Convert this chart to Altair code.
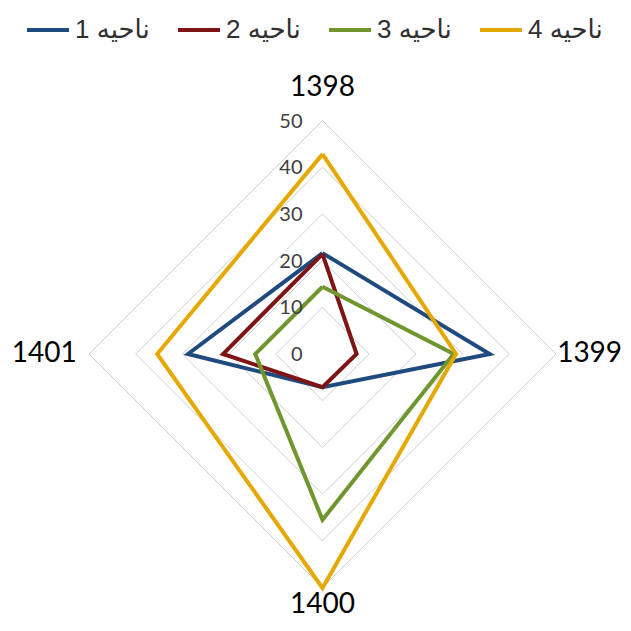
import math
import altair as alt
import pandas as pd

years = ["1398", "1399", "1400", "1401"]
series = ["ناحیه 1", "ناحیه 2", "ناحیه 3", "ناحیه 4"]
v1 = [21.6, 35.8, 7.1, 28.8]
v2 = [21.4, 7.3, 7.1, 21.3]
v3 = [14.4, 28.1, 35.5, 14.4]
v4 = [42.8, 28.6, 50.1, 35.4]
colors = ["#1F4A7E", "#7F1416", "#70972F", "#E5A800"]
ticks = [0, 10, 20, 30, 40, 50]

n = len(years)
rows = []
for s, vals in zip(series, [v1, v2, v3, v4]):
    for i in range(n + 1):
        j = i % n
        rows.append({"series": s, "year": years[j], "idx": j, "order": i, "value": vals[j]})
df = pd.DataFrame(rows)

grid_rows = []
for lv in ticks[1:]:
    for i in range(n + 1):
        grid_rows.append({"level": lv, "idx": i % n, "order": i, "value": lv})
gdf = pd.DataFrame(grid_rows)

cat_df = pd.DataFrame({"year": years, "idx": list(range(n))})
tick_df = pd.DataFrame({"value": ticks})

W, H = 615, 615
k = 4.67
cx, cy = 314.5, 346.0
xdom = [-cx / k, (W - cx) / k]
ydom = [-(H - cy) / k, cy / k]

xs = alt.Scale(domain=xdom, nice=False, zero=False)
ys = alt.Scale(domain=ydom, nice=False, zero=False)

polar = dict(
    theta=f"datum.idx * {2 * math.pi / n}",
)

grid = alt.Chart(gdf).transform_calculate(**polar).transform_calculate(
    x="datum.value * sin(datum.theta)", y="datum.value * cos(datum.theta)"
).mark_line(color="#CFCFCF", strokeWidth=1).encode(
    x=alt.X("x:Q", scale=xs, axis=None),
    y=alt.Y("y:Q", scale=ys, axis=None),
    detail="level:N",
    order="order:Q",
)

lines = alt.Chart(df).transform_calculate(**polar).transform_calculate(
    x="datum.value * sin(datum.theta)", y="datum.value * cos(datum.theta)"
).mark_line(strokeWidth=4, strokeJoin="miter").encode(
    x=alt.X("x:Q", scale=xs, axis=None),
    y=alt.Y("y:Q", scale=ys, axis=None),
    color=alt.Color(
        "series:N",
        scale=alt.Scale(domain=series, range=colors),
        legend=alt.Legend(
            title=None,
            orient="none",
            legendX=17,
            legendY=-1,
            direction="horizontal",
            symbolType="stroke",
            symbolSize=1764,
            symbolStrokeWidth=4,
            labelFont="Liberation Sans, DejaVu Sans",
            labelFontSize=26,
            labelColor="#303030",
            labelOffset=4,
            columnPadding=20,
            padding=0,
            labelLimit=300,
        ),
    ),
    order="order:Q",
)

tick_labels = alt.Chart(tick_df).mark_text(
    align="right", baseline="middle", dx=-20, dy=1, font="Lato", fontSize=20, color="#404040"
).encode(
    x=alt.X("zero:Q", scale=xs, axis=None),
    y=alt.Y("value:Q", scale=ys, axis=None),
    text=alt.Text("value:Q"),
).transform_calculate(zero="0")

cat_labels = alt.Chart(cat_df).transform_calculate(**polar).transform_calculate(
    r="datum.idx == 0 ? 57 : datum.idx == 1 ? 57.2 : datum.idx == 2 ? 53.8 : 59.6"
).transform_calculate(
    x="datum.r * sin(datum.theta)", y="datum.r * cos(datum.theta)"
).mark_text(
    align="center", baseline="middle", font="Lato", fontSize=28, color="#000000"
).encode(
    x=alt.X("x:Q", scale=xs, axis=None),
    y=alt.Y("y:Q", scale=ys, axis=None),
    text="year:N",
)

chart = alt.layer(grid, lines, tick_labels, cat_labels).properties(
    width=W, height=H, padding=0, autosize=alt.AutoSizeParams(type="none")
).configure_view(stroke=None)

chart.save("out.html", embed_options={"renderer": "svg", "actions": False})
